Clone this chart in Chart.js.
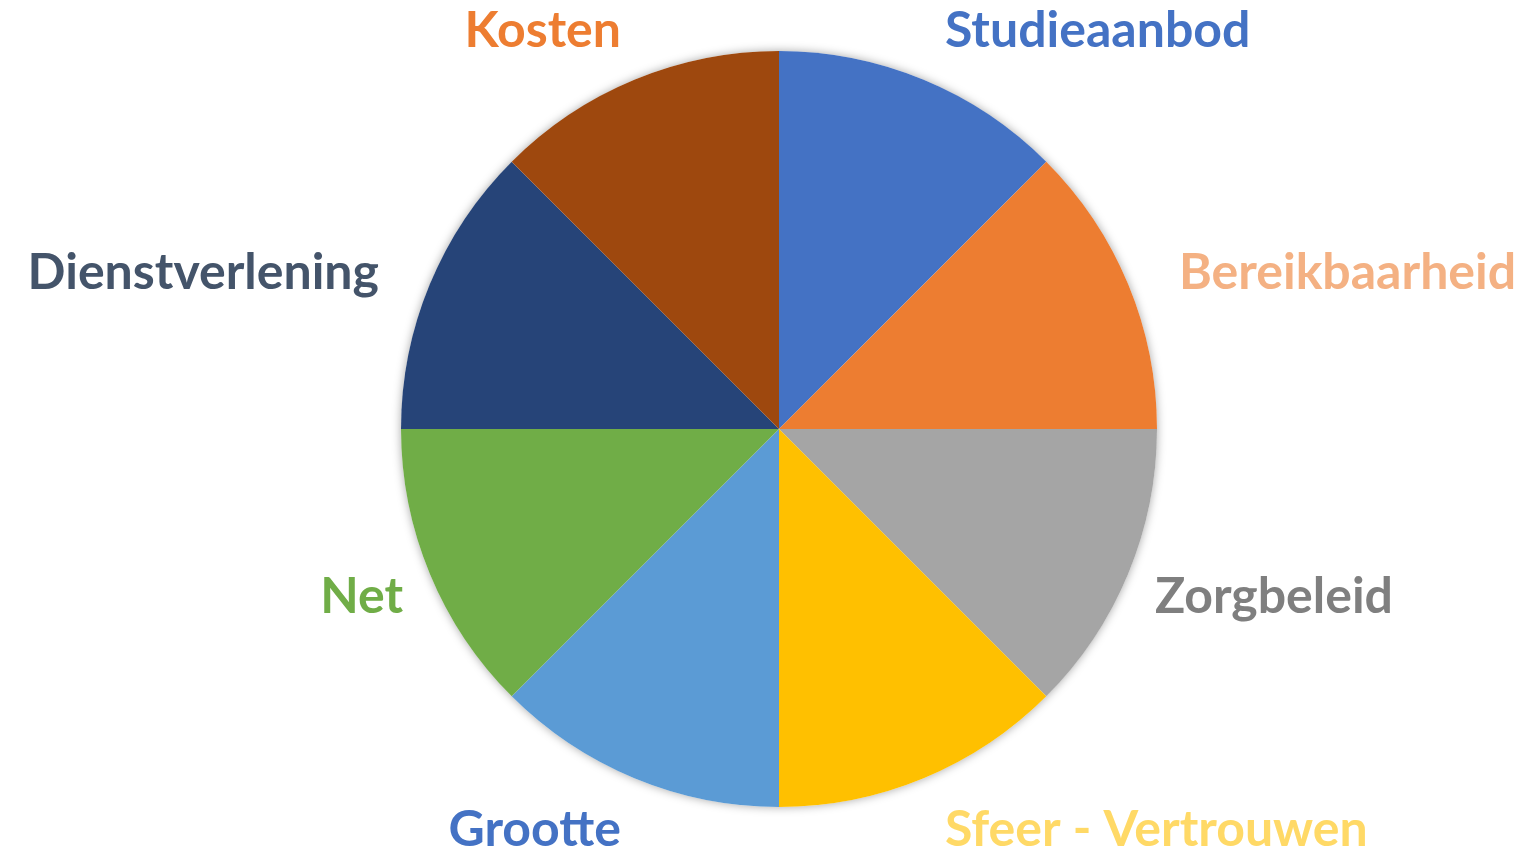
<!DOCTYPE html>
<html>
<head>
<meta charset="utf-8">
<script src="https://cdn.jsdelivr.net/npm/chart.js@4.4.1/dist/chart.umd.min.js"></script>
<style>
  html, body { margin: 0; padding: 0; background: #fff; }
  #wrap { width: 1517px; height: 854px; position: relative; }
</style>
</head>
<body>
<div id="wrap"><canvas id="chart"></canvas></div>
<script>
const categories = ['Studieaanbod', 'Bereikbaarheid', 'Zorgbeleid', 'Sfeer - Vertrouwen', 'Grootte', 'Net', 'Dienstverlening', 'Kosten'];
const values = [1, 1, 1, 1, 1, 1, 1, 1];
const sliceColors = ['#4472C4', '#ED7D31', '#A5A5A5', '#FFC000', '#5B9BD5', '#70AD47', '#264478', '#9E480E'];
const labelColors = ['#4472C4', '#F4B183', '#7F7F7F', '#FFD966', '#4472C4', '#70AD47', '#44546A', '#ED7D31'];

const FONT = 'bold 50px Lato, "Open Sans", sans-serif';

// soft shadow behind the whole pie
const pieShadow = {
  id: 'pieShadow',
  beforeDatasetsDraw(chart) {
    const arc = chart.getDatasetMeta(0).data[0];
    if (!arc) return;
    const { x, y, outerRadius } = arc.getProps(['x', 'y', 'outerRadius'], true);
    const ctx = chart.ctx;
    ctx.save();
    ctx.shadowColor = 'rgba(0,0,0,0.35)';
    ctx.shadowBlur = 10;
    ctx.beginPath();
    ctx.arc(x, y, outerRadius, 0, Math.PI * 2);
    ctx.fillStyle = '#fff';
    ctx.fill();
    ctx.restore();
  }
};

// category names outside the slices, like the office chart
const outsideLabels = {
  id: 'outsideLabels',
  afterDatasetsDraw(chart) {
    const ctx = chart.ctx;
    const meta = chart.getDatasetMeta(0);
    ctx.save();
    ctx.font = FONT;
    meta.data.forEach((arc, i) => {
      const p = arc.getProps(['x', 'y', 'startAngle', 'endAngle', 'outerRadius'], true);
      const a = (p.startAngle + p.endAngle) / 2;
      const c = Math.cos(a), s = Math.sin(a);
      let r;
      if (Math.abs(s) > 0.8) r = p.outerRadius + 35;      // top / bottom
      else if (s < 0) r = p.outerRadius + 55;             // upper sides
      else r = p.outerRadius + 29;                        // lower sides
      let tx = p.x + c * r;
      let ty = p.y + s * r;
      ctx.textAlign = c >= 0 ? 'left' : 'right';
      if (Math.abs(s) > 0.8) {
        if (c >= 0) tx += 8;
        if (s < 0) {
          ctx.textBaseline = 'alphabetic';
        } else {
          ctx.textBaseline = 'top';
          ty -= 6;
        }
      } else {
        ctx.textBaseline = 'middle';
        ty += s < 0 ? 10 : 12;
      }
      ctx.fillStyle = labelColors[i];
      ctx.fillText(chart.data.labels[i], tx, ty);
    });
    ctx.restore();
  }
};

new Chart(document.getElementById('chart'), {
  type: 'pie',
  data: {
    labels: categories,
    datasets: [{
      data: values,
      backgroundColor: sliceColors,
      borderWidth: 0
    }]
  },
  options: {
    responsive: true,
    maintainAspectRatio: false,
    animation: false,
    layout: { padding: { top: 51, bottom: 47, left: 41, right: 0 } },
    plugins: {
      legend: { display: false },
      tooltip: { enabled: false }
    }
  },
  plugins: [pieShadow, outsideLabels]
});
</script>
</body>
</html>
